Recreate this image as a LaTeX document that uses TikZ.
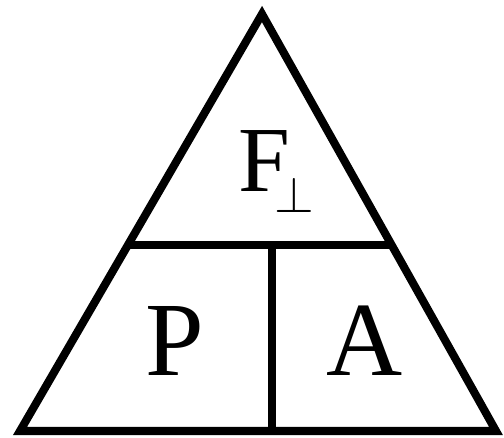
\RequirePackage{fix-cm}
\documentclass[tikz,border=0pt]{standalone}
\usepackage{fontspec}
\setmainfont{Liberation Serif}
\usepackage{tikz}
\usetikzlibrary{calc}
\tikzset{
  edge/.style={draw=black, line width=4.6pt, line join=miter},
  bigletter/.style={anchor=base, inner sep=0pt, font=\fontsize{60}{60}\selectfont},
  topletter/.style={anchor=base west, inner sep=0pt, font=\fontsize{53}{53}\selectfont}
}
\newcommand{\perpsub}{{\fontsize{29}{29}\selectfont\raisebox{-12pt}{$\perp$}}}

\begin{document}
\begin{tikzpicture}[x=0.02cm, y=-0.02cm]
  \useasboundingbox (0,0) rectangle (504,437);

  % Corners of the triangle
  \coordinate (top) at (262,14);
  \coordinate (bl) at (20,431);
  \coordinate (br) at (496,431);

  % Dividing lines
  \coordinate (ml) at ($(top)!0.554!(bl)$);
  \coordinate (mr) at ($(top)!0.554!(br)$);
  \coordinate (mid) at ($(ml)!0.545!(mr)$);
  \coordinate (bm) at (mid |- bl);

  \draw[edge] (top) -- (bl) -- (br) -- cycle;
  \draw[edge] (ml) -- (mr);
  \draw[edge] (mid) -- (bm);

  % Labels
  \node[topletter] (force) at (238,191) {F\kern-9pt\perpsub};
  \node[bigletter] (press) at (175,375) {P};
  \node[bigletter] (area) at (365,375) {A};
\end{tikzpicture}
\end{document}
